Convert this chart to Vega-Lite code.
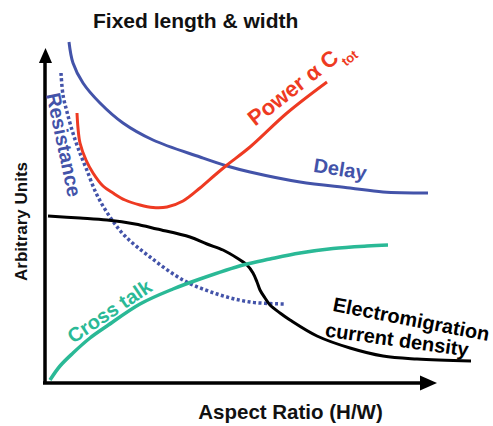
{
  "$schema": "https://vega.github.io/schema/vega-lite/v6.json",
  "width": 448,
  "height": 343,
  "autosize": {"type": "none"},
  "padding": {"left": 45, "top": 40, "right": 0, "bottom": 43},
  "background": "white",
  "config": {"view": {"stroke": null}},
  "title": {
    "text": "Fixed length & width",
    "anchor": "start",
    "frame": "group",
    "dx": 48,
    "dy": 26,
    "offset": 13,
    "baseline": "alphabetic",
    "fontSize": 21,
    "font": "Liberation Sans",
    "fontWeight": "bold",
    "color": "#111111"
  },
  "datasets": {
    "curves": [
      {"series": "Delay", "x": 24, "y": 341},
      {"series": "Delay", "x": 28, "y": 320},
      {"series": "Delay", "x": 38, "y": 300},
      {"series": "Delay", "x": 55, "y": 280},
      {"series": "Delay", "x": 78, "y": 260},
      {"series": "Delay", "x": 108, "y": 243},
      {"series": "Delay", "x": 155, "y": 226},
      {"series": "Delay", "x": 182, "y": 217},
      {"series": "Delay", "x": 205, "y": 211},
      {"series": "Delay", "x": 255, "y": 201},
      {"series": "Delay", "x": 305, "y": 195},
      {"series": "Delay", "x": 338, "y": 191},
      {"series": "Delay", "x": 383, "y": 190},
      {"series": "Resistance", "x": 16, "y": 310},
      {"series": "Resistance", "x": 18, "y": 288},
      {"series": "Resistance", "x": 22, "y": 271},
      {"series": "Resistance", "x": 27, "y": 253},
      {"series": "Resistance", "x": 33, "y": 235},
      {"series": "Resistance", "x": 41, "y": 215},
      {"series": "Resistance", "x": 52, "y": 188},
      {"series": "Resistance", "x": 65, "y": 166},
      {"series": "Resistance", "x": 80, "y": 147},
      {"series": "Resistance", "x": 105, "y": 126},
      {"series": "Resistance", "x": 138, "y": 103},
      {"series": "Resistance", "x": 172, "y": 89},
      {"series": "Resistance", "x": 205, "y": 81},
      {"series": "Resistance", "x": 241, "y": 79},
      {"series": "Power", "x": 32, "y": 270},
      {"series": "Power", "x": 33, "y": 255},
      {"series": "Power", "x": 35, "y": 240},
      {"series": "Power", "x": 41, "y": 223},
      {"series": "Power", "x": 48, "y": 210},
      {"series": "Power", "x": 58, "y": 197},
      {"series": "Power", "x": 68, "y": 190},
      {"series": "Power", "x": 80, "y": 183},
      {"series": "Power", "x": 95, "y": 178},
      {"series": "Power", "x": 108, "y": 175.5},
      {"series": "Power", "x": 122, "y": 176},
      {"series": "Power", "x": 138, "y": 182},
      {"series": "Power", "x": 155, "y": 195},
      {"series": "Power", "x": 170, "y": 208},
      {"series": "Power", "x": 182, "y": 218},
      {"series": "Power", "x": 205, "y": 236},
      {"series": "Power", "x": 242, "y": 270},
      {"series": "Power", "x": 282, "y": 301},
      {"series": "Electromigration", "x": 3, "y": 167},
      {"series": "Electromigration", "x": 35, "y": 165},
      {"series": "Electromigration", "x": 62, "y": 163},
      {"series": "Electromigration", "x": 90, "y": 159},
      {"series": "Electromigration", "x": 112, "y": 154},
      {"series": "Electromigration", "x": 145, "y": 146},
      {"series": "Electromigration", "x": 162, "y": 139},
      {"series": "Electromigration", "x": 178, "y": 133},
      {"series": "Electromigration", "x": 192, "y": 125},
      {"series": "Electromigration", "x": 202, "y": 118},
      {"series": "Electromigration", "x": 208, "y": 110},
      {"series": "Electromigration", "x": 212, "y": 101},
      {"series": "Electromigration", "x": 215, "y": 93},
      {"series": "Electromigration", "x": 220, "y": 85},
      {"series": "Electromigration", "x": 225, "y": 78},
      {"series": "Electromigration", "x": 235, "y": 70},
      {"series": "Electromigration", "x": 245, "y": 63},
      {"series": "Electromigration", "x": 272, "y": 47},
      {"series": "Electromigration", "x": 305, "y": 35},
      {"series": "Electromigration", "x": 338, "y": 27},
      {"series": "Electromigration", "x": 372, "y": 24},
      {"series": "Electromigration", "x": 426, "y": 22},
      {"series": "Cross talk", "x": 5, "y": 3},
      {"series": "Cross talk", "x": 15, "y": 17},
      {"series": "Cross talk", "x": 28, "y": 30},
      {"series": "Cross talk", "x": 45, "y": 45},
      {"series": "Cross talk", "x": 62, "y": 57},
      {"series": "Cross talk", "x": 95, "y": 79},
      {"series": "Cross talk", "x": 128, "y": 94},
      {"series": "Cross talk", "x": 155, "y": 104},
      {"series": "Cross talk", "x": 198, "y": 118},
      {"series": "Cross talk", "x": 225, "y": 124},
      {"series": "Cross talk", "x": 255, "y": 130},
      {"series": "Cross talk", "x": 288, "y": 134.5},
      {"series": "Cross talk", "x": 322, "y": 137},
      {"series": "Cross talk", "x": 343, "y": 138}
    ],
    "axes": [
      {"axis": "y", "x": 0, "y": 0, "x2": 0, "y2": 326},
      {"axis": "x", "x": -2, "y": 0, "x2": 384, "y2": 0}
    ],
    "arrows": [
      {"axis": "y", "x": 0.5, "y": 327.5},
      {"axis": "x", "x": 383.5, "y": 0}
    ],
    "labels": [
      {"label": "Delay", "x": 295, "y": 213},
      {"label": "Power α C", "x": 252.5, "y": 289.3},
      {"label": "tot", "x": 305, "y": 324.5},
      {"label": "Resistance", "x": 18, "y": 238},
      {"label": "Cross talk", "x": 65, "y": 71},
      {"label": "Electromigration", "x": 365, "y": 57},
      {"label": "current density", "x": 351, "y": 36.5}
    ]
  },
  "encoding": {
    "x": {
      "field": "x",
      "type": "quantitative",
      "scale": {"domain": [0, 448], "nice": false, "zero": false},
      "axis": {
        "title": "Aspect Ratio (H/W)",
        "domain": false, "ticks": false, "labels": false, "grid": false,
        "titleFont": "Liberation Sans", "titleFontSize": 20.5, "titleFontWeight": "bold",
        "titleColor": "#111111", "titleX": 245, "titleY": 35,
        "titleBaseline": "alphabetic", "titleAlign": "center"
      }
    },
    "y": {
      "field": "y",
      "type": "quantitative",
      "scale": {"domain": [0, 343], "nice": false, "zero": false},
      "axis": {
        "title": "Arbitrary Units",
        "domain": false, "ticks": false, "labels": false, "grid": false,
        "titleFont": "Liberation Sans", "titleFontSize": 17, "titleFontWeight": "bold",
        "titleColor": "#111111", "titleX": -19, "titleY": 181, "titleAngle": -90,
        "titleBaseline": "alphabetic", "titleAlign": "center"
      }
    }
  },
  "layer": [
    {
      "data": {"name": "axes"},
      "mark": {"type": "rule", "stroke": "#000000", "strokeWidth": 3.5},
      "encoding": {"x2": {"field": "x2"}, "y2": {"field": "y2"}}
    },
    {
      "data": {"name": "arrows"},
      "transform": [{"filter": "datum.axis === 'y'"}],
      "mark": {"type": "point", "shape": "M0,-1L0.87,1L-0.87,1Z", "size": 225, "filled": true, "color": "#000000", "opacity": 1}
    },
    {
      "data": {"name": "arrows"},
      "transform": [{"filter": "datum.axis === 'x'"}],
      "mark": {"type": "point", "shape": "M1,0L-1,0.88L-1,-0.88Z", "size": 289, "filled": true, "color": "#000000", "opacity": 1}
    },
    {
      "data": {"name": "curves"},
      "transform": [{"filter": "datum.series === 'Delay'"}],
      "mark": {"type": "line", "interpolate": "catmull-rom", "stroke": "#4353A9", "strokeWidth": 3}
    },
    {
      "data": {"name": "curves"},
      "transform": [{"filter": "datum.series === 'Resistance'"}],
      "mark": {"type": "line", "interpolate": "catmull-rom", "stroke": "#4353A9", "strokeWidth": 3.5, "strokeDash": [3, 2.5], "strokeCap": "butt"}
    },
    {
      "data": {"name": "curves"},
      "transform": [{"filter": "datum.series === 'Power'"}],
      "mark": {"type": "line", "interpolate": "catmull-rom", "stroke": "#EE3A22", "strokeWidth": 3}
    },
    {
      "data": {"name": "curves"},
      "transform": [{"filter": "datum.series === 'Electromigration'"}],
      "mark": {"type": "line", "interpolate": "catmull-rom", "stroke": "#000000", "strokeWidth": 3}
    },
    {
      "data": {"name": "curves"},
      "transform": [{"filter": "datum.series === 'Cross talk'"}],
      "mark": {"type": "line", "interpolate": "catmull-rom", "stroke": "#2AB996", "strokeWidth": 3.5}
    },
    {
      "data": {"name": "labels"},
      "transform": [{"filter": "datum.label === 'Delay'"}],
      "mark": {"type": "text", "font": "Liberation Sans", "fontWeight": "bold", "fontSize": 20, "color": "#4353A9", "angle": 9, "align": "center", "baseline": "middle"},
      "encoding": {"text": {"field": "label"}}
    },
    {
      "data": {"name": "labels"},
      "transform": [{"filter": "datum.label === 'Power α C'"}],
      "mark": {"type": "text", "font": "Liberation Sans", "fontWeight": "bold", "fontSize": 22, "color": "#EE3A22", "angle": -38, "align": "center", "baseline": "alphabetic"},
      "encoding": {"text": {"field": "label"}}
    },
    {
      "data": {"name": "labels"},
      "transform": [{"filter": "datum.label === 'tot'"}],
      "mark": {"type": "text", "font": "Liberation Sans", "fontWeight": "bold", "fontSize": 13, "color": "#EE3A22", "angle": -38, "align": "center", "baseline": "middle"},
      "encoding": {"text": {"field": "label"}}
    },
    {
      "data": {"name": "labels"},
      "transform": [{"filter": "datum.label === 'Resistance'"}],
      "mark": {"type": "text", "font": "Liberation Sans", "fontWeight": "bold", "fontSize": 20, "color": "#4353A9", "angle": 78, "align": "center", "baseline": "middle"},
      "encoding": {"text": {"field": "label"}}
    },
    {
      "data": {"name": "labels"},
      "transform": [{"filter": "datum.label === 'Cross talk'"}],
      "mark": {"type": "text", "font": "Liberation Sans", "fontWeight": "bold", "fontSize": 20, "color": "#2AB996", "angle": -34, "align": "center", "baseline": "middle"},
      "encoding": {"text": {"field": "label"}}
    },
    {
      "data": {"name": "labels"},
      "transform": [{"filter": "datum.label === 'Electromigration'"}],
      "mark": {"type": "text", "font": "Liberation Sans", "fontWeight": "bold", "fontSize": 20, "color": "#000000", "angle": 11, "align": "center", "baseline": "alphabetic"},
      "encoding": {"text": {"field": "label"}}
    },
    {
      "data": {"name": "labels"},
      "transform": [{"filter": "datum.label === 'current density'"}],
      "mark": {"type": "text", "font": "Liberation Sans", "fontWeight": "bold", "fontSize": 20, "color": "#000000", "angle": 8, "align": "center", "baseline": "alphabetic"},
      "encoding": {"text": {"field": "label"}}
    }
  ]
}
